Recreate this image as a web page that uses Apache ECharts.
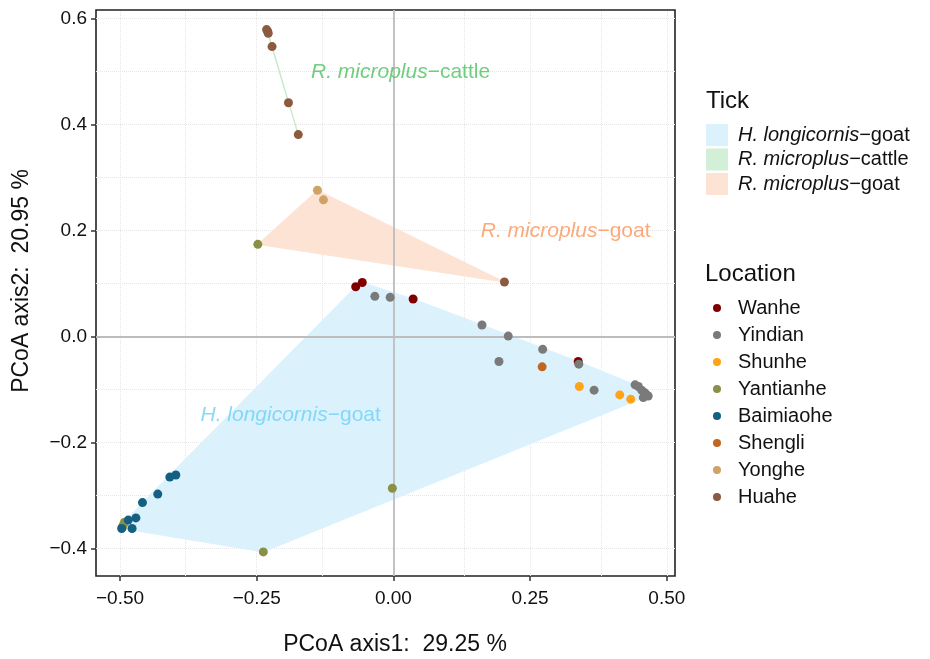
<!DOCTYPE html>
<html>
<head>
<meta charset="utf-8">
<script src="https://cdn.jsdelivr.net/npm/echarts@6/dist/echarts.min.js"></script>
<style>
  html, body { margin: 0; padding: 0; background: #fff; }
  #chart { width: 930px; height: 659px; }
</style>
</head>
<body>
<div id="chart"></div>
<script>
// 分组与配色
var locations = ['Wanhe', 'Yindian', 'Shunhe', 'Yantianhe', 'Baimiaohe', 'Shengli', 'Yonghe', 'Huahe'];
var locColors = ['#800000', '#7a7a7a', '#ffa319', '#8a9045', '#155f83', '#c16622', '#d0a266', '#8c5a3e'];
var ticks = ['H. longicornis−goat', 'R. microplus−cattle', 'R. microplus−goat'];
var tickFill = ['#dbf2fd', '#d2efd7', '#fde3d4'];
var tickText = ['#6ecff6', '#4cc25e', '#fb955a'];

// 坐标轴刻度
var xTicks = [-0.5, -0.25, 0, 0.25, 0.5];
var yTicks = [-0.4, -0.2, 0, 0.2, 0.4, 0.6];

// 每个点: [PCoA1, PCoA2, tick 分组下标]
var wanhe = [[-0.069, 0.094, 0], [-0.057, 0.102, 0], [0.036, 0.071, 0], [0.338, -0.047, 0]];
var yindian = [[-0.034, 0.076, 0], [-0.006, 0.074, 0], [0.162, 0.022, 0], [0.210, 0.001, 0],
  [0.273, -0.024, 0], [0.193, -0.047, 0], [0.339, -0.052, 0], [0.367, -0.101, 0],
  [0.442, -0.091, 0], [0.448, -0.094, 0], [0.454, -0.101, 0], [0.460, -0.106, 0],
  [0.463, -0.110, 0], [0.466, -0.112, 0], [0.457, -0.115, 0]];
var shunhe = [[0.340, -0.094, 0], [0.414, -0.110, 0], [0.434, -0.118, 0]];
var yantianhe = [[-0.248, 0.174, 2], [-0.238, -0.406, 0], [-0.002, -0.286, 0],
  [-0.494, -0.355, 0], [-0.496, -0.360, 0], [-0.492, -0.350, 0]];
var baimiaohe = [[-0.398, -0.261, 0], [-0.409, -0.265, 0], [-0.431, -0.297, 0], [-0.459, -0.313, 0],
  [-0.471, -0.342, 0], [-0.485, -0.346, 0], [-0.478, -0.362, 0], [-0.497, -0.362, 0]];
var shengli = [[0.272, -0.057, 0]];
var yonghe = [[-0.139, 0.276, 2], [-0.128, 0.258, 2]];
var huahe = [[-0.232, 0.579, 1], [-0.230, 0.576, 1], [-0.229, 0.572, 1], [-0.222, 0.547, 1],
  [-0.192, 0.441, 1], [-0.174, 0.381, 1], [0.203, 0.103, 2]];

var locPoints = [wanhe, yindian, shunhe, yantianhe, baimiaohe, shengli, yonghe, huahe];

// 标注文字位置 (数据坐标)
var notes = [
  { tick: 0, at: [-0.188, -0.149] },
  { tick: 1, at: [0.013, 0.498] },
  { tick: 2, at: [0.315, 0.198] }
];

var font = 'Liberation Sans, Arial, sans-serif';

// 凸包
function convexHull(pts) {
  var p = pts.map(function (d) { return [d[0], d[1]]; }).sort(function (a, b) { return a[0] - b[0] || a[1] - b[1]; });
  function cross(o, a, b) { return (a[0] - o[0]) * (b[1] - o[1]) - (a[1] - o[1]) * (b[0] - o[0]); }
  var lower = [], upper = [];
  p.forEach(function (q) {
    while (lower.length >= 2 && cross(lower[lower.length - 2], lower[lower.length - 1], q) <= 0) lower.pop();
    lower.push(q);
  });
  for (var i = p.length - 1; i >= 0; i--) {
    while (upper.length >= 2 && cross(upper[upper.length - 2], upper[upper.length - 1], p[i]) <= 0) upper.pop();
    upper.push(p[i]);
  }
  upper.pop(); lower.pop();
  return lower.concat(upper);
}

var allPoints = [].concat.apply([], locPoints);

function splitName(name) {
  var s = name.split('−');
  return '{i|' + s[0] + '}{n|−' + s[1] + '}';
}

// 网格线 (主刻度 + 中间次刻度)
function withMinor(arr) {
  var out = [];
  for (var i = 0; i < arr.length; i++) {
    out.push(arr[i]);
    if (i < arr.length - 1) out.push((arr[i] + arr[i + 1]) / 2);
  }
  return out;
}
var xGrid = withMinor(xTicks);
var yGrid = withMinor(yTicks);

var series = [];

// 背景网格
series.push({
  type: 'scatter', name: 'grid', data: [], silent: true, z: 0,
  markLine: {
    silent: true, symbol: 'none', z: 0, animation: false,
    label: { show: false },
    lineStyle: { type: 'dotted', color: '#e6e6e6', width: 1 },
    emphasis: { disabled: true },
    data: xGrid.map(function (v) { return { xAxis: v }; }).concat(yGrid.map(function (v) { return { yAxis: v }; }))
  }
});

// 凸包多边形
ticks.forEach(function (t, k) {
  var hull = convexHull(allPoints.filter(function (p) { return p[2] === k; }));
  series.push({
    type: 'custom', name: t, z: 1, silent: true,
    itemStyle: { color: tickFill[k] },
    data: hull,
    renderItem: function (params, api) {
      if (params.dataIndex !== 0) return null;
      return {
        type: 'polygon',
        shape: { points: hull.map(function (p) { return api.coord(p); }) },
        style: { fill: tickFill[k], stroke: k === 1 ? '#c6ebcd' : tickFill[k], lineWidth: 1 }
      };
    }
  });
});

// 零参考线
series.push({
  type: 'scatter', name: 'zero', data: [], silent: true, z: 2,
  markLine: {
    silent: true, symbol: 'none', z: 2, animation: false,
    label: { show: false },
    lineStyle: { type: 'solid', color: '#bdbdbd', width: 1.8 },
    emphasis: { disabled: true },
    data: [{ xAxis: 0 }, { yAxis: 0 }]
  }
});

// 样点
locations.forEach(function (loc, i) {
  series.push({
    type: 'scatter', name: loc, z: 3, symbolSize: 9,
    itemStyle: { color: locColors[i], opacity: 1 },
    data: locPoints[i].map(function (p) { return [p[0], p[1]]; })
  });
});

// 标注
series.push({
  type: 'scatter', name: 'notes', z: 4, symbolSize: 1, silent: true,
  itemStyle: { color: 'rgba(0,0,0,0)' },
  data: notes.map(function (n) {
    return {
      value: n.at,
      label: {
        show: true, position: 'inside',
        formatter: splitName(ticks[n.tick]),
        rich: {
          i: { fontStyle: 'italic', fontSize: 21, fontFamily: font, color: tickText[n.tick] },
          n: { fontSize: 21, fontFamily: font, color: tickText[n.tick] }
        }
      }
    };
  })
});

var chart = echarts.init(document.getElementById('chart'));

chart.setOption({
  animation: false,
  backgroundColor: '#fff',
  grid: { left: 96, right: 255, top: 10, bottom: 83, show: true, borderColor: '#222', borderWidth: 1.6, backgroundColor: 'transparent' },
  xAxis: {
    type: 'value', min: -0.544, max: 0.515,
    axisLine: { show: false, onZero: false },
    splitLine: { show: false },
    axisTick: { show: true, length: 5, lineStyle: { color: '#333', width: 1.5 }, customValues: xTicks },
    axisLabel: {
      customValues: xTicks, margin: 13, fontSize: 19, fontFamily: font, color: '#111',
      formatter: function (v) { return v.toFixed(2).replace('-', '−'); }
    }
  },
  yAxis: {
    type: 'value', min: -0.4515, max: 0.616,
    axisLine: { show: false, onZero: false },
    splitLine: { show: false },
    axisTick: { show: true, length: 5, lineStyle: { color: '#333', width: 1.5 }, customValues: yTicks },
    axisLabel: {
      customValues: yTicks, margin: 9, fontSize: 19, fontFamily: font, color: '#111',
      formatter: function (v) { return v.toFixed(1).replace('-', '−'); }
    }
  },
  legend: [
    {
      data: ticks, orient: 'vertical', left: 706, top: 124, padding: 0,
      icon: 'rect', itemWidth: 22, itemHeight: 22, itemGap: 2.5,
      selectedMode: false,
      formatter: splitName,
      textStyle: {
        padding: [0, 0, 0, 5], lineHeight: 20,
        rich: {
          i: { fontStyle: 'italic', fontSize: 20, fontFamily: font, color: '#111' },
          n: { fontSize: 20, fontFamily: font, color: '#111' }
        }
      }
    },
    {
      data: locations, orient: 'vertical', left: 713, top: 298, padding: 0,
      icon: 'circle', itemWidth: 8, itemHeight: 8, itemGap: 7,
      selectedMode: false,
      textStyle: { padding: [0, 0, 0, 12], lineHeight: 20, fontSize: 20, fontFamily: font, color: '#111' }
    }
  ],
  graphic: [
    { type: 'text', x: 706, y: 101.5, style: { text: 'Tick', fontSize: 24, fontFamily: font, fill: '#111', verticalAlign: 'middle' } },
    { type: 'text', x: 705, y: 274, style: { text: 'Location', fontSize: 24, fontFamily: font, fill: '#111', verticalAlign: 'middle' } },
    { type: 'text', x: 395, y: 645, style: { text: 'PCoA axis1:  29.25 %', fontSize: 23, fontFamily: font, fill: '#111', align: 'center', verticalAlign: 'middle' } },
    { type: 'text', x: 22, y: 281, rotation: Math.PI / 2, style: { text: 'PCoA axis2:  20.95 %', fontSize: 23, fontFamily: font, fill: '#111', align: 'center', verticalAlign: 'middle' } }
  ],
  series: series
});
</script>
</body>
</html>
